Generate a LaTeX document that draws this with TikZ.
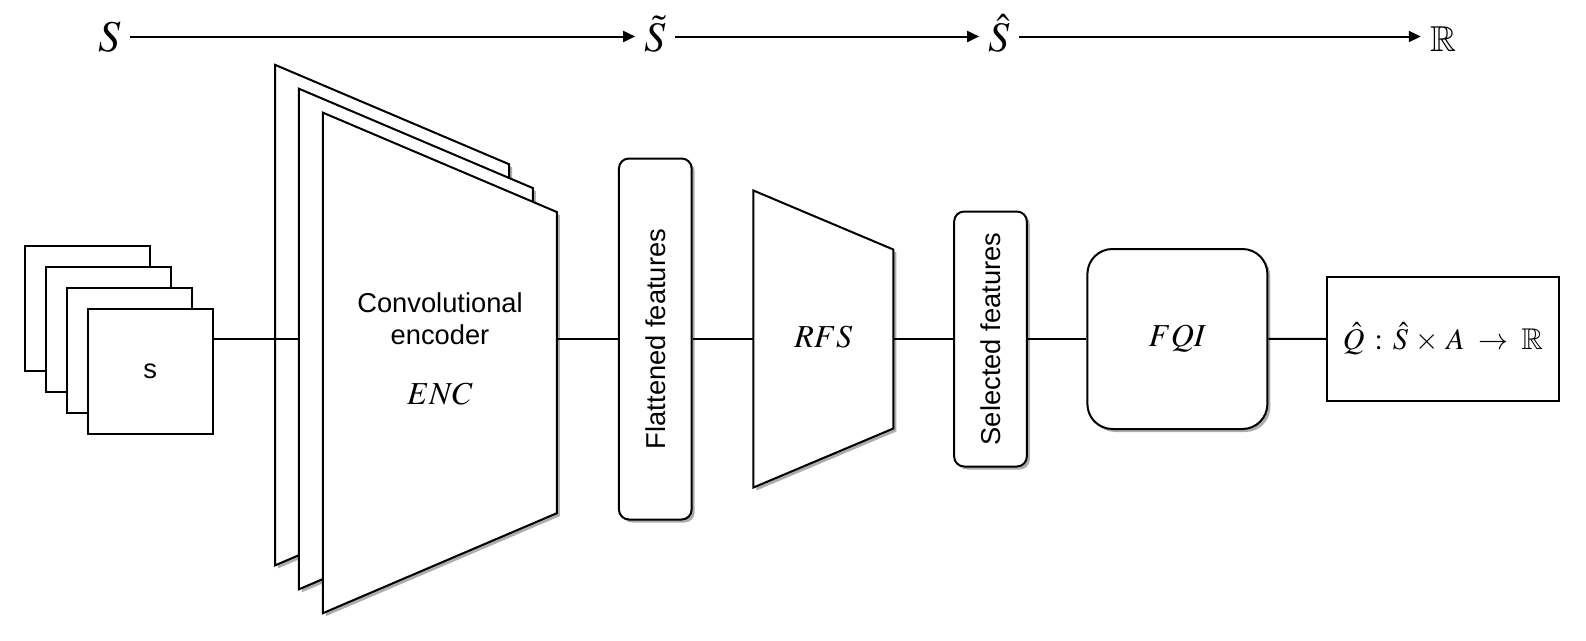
\documentclass[tikz,border=0pt]{standalone}
\usepackage{mathptmx}
\usepackage{amssymb}
\usepackage{fontspec}
\setmainfont{Liberation Sans}
\usetikzlibrary{arrows.meta,shadows}
\newcommand\sansf{\fontsize{27.3}{32}\selectfont}
\newcommand\mathf{\fontsize{32}{38}\selectfont}
\tikzset{
  ln/.style={line width=2pt},
  arr/.style={line width=2pt,-{Triangle[length=12pt,width=11pt]}},
  shd/.style={drop shadow={shadow xshift=3pt,shadow yshift=-3pt,fill=black!32,opacity=1}},
  frame/.style={draw,line width=2pt,fill=white,minimum width=124.5pt,minimum height=124.5pt,inner sep=0pt,font=\sansf},
  rbox/.style={draw,line width=2pt,fill=white,rounded corners=10pt,inner sep=0pt,shd},
  trap/.style={draw,line width=2pt,fill=white,line join=miter,shd},
  top/.style={anchor=base,inner xsep=9pt,inner ysep=0pt,text height=30pt,text depth=0pt},
  lbl/.style={inner sep=0pt}
}
\begin{document}
\begin{tikzpicture}[x=1pt,y=-1pt]
\useasboundingbox (0,0) rectangle (1586,640);
% top row
\node[top,font=\fontsize{44}{50}\selectfont] (tS) at (109.5,51.5) {$S$};
\node[top,font=\fontsize{42}{50}\selectfont] (tSt) at (655,51.5) {$\tilde{S}$};
\node[top,font=\fontsize{42}{50}\selectfont] (tSh) at (999,51.5) {$\hat{S}$};
\node[top,font=\fontsize{36}{42}\selectfont] (tR) at (1443,51.5) {$\mathbb{R}$};
\draw[arr] (tS) -- (tSt);
\draw[arr] (tSt) -- (tSh);
\draw[arr] (tSh) -- (tR);
% input frames
\node[frame] (f0) at (87.25,308.25) {};
\node[frame] (f1) at (108.25,329.25) {};
\node[frame] (f2) at (129.25,350.25) {};
\node[frame] (f3) at (150.25,371.25) {s};
% encoder
\draw[trap] (275,64.8) -- (509,164.2) -- (509,465.4) -- (275,565.4) -- cycle;
\coordinate (encin) at (298.9,339);
\draw[ln] (f3.east |- encin) -- (encin);
\draw[trap] (298.9,88.7) -- (532.9,188.1) -- (532.9,489.3) -- (298.9,589.3) -- cycle;
\draw[trap] (322.8,112.6) -- (556.8,212) -- (556.8,513.2) -- (322.8,613.2) -- cycle;
\coordinate (encout) at (556.8,339);
\node[lbl,anchor=base,font=\sansf] (enc1) at (440,312.7) {Convolutional};
\node[lbl,anchor=base,font=\sansf] (enc2) at (440,344) {encoder};
\node[lbl,anchor=base,font=\mathf] (enc3) at (440,404) {$ENC$};
% flattened
\node[rbox,minimum width=72.7pt,minimum height=361pt] (flat) at (655.3,339) {\rotatebox{90}{\sansf Flattened features}};
\draw[ln] (encout) -- (flat);
% RFS
\draw[trap] (753.4,190.5) -- (893.3,249.5) -- (893.3,428.5) -- (753.4,487.5) -- cycle;
\coordinate (rfsin) at (753.4,339);
\coordinate (rfsout) at (893.3,339);
\node[lbl,font=\mathf] (rfs) at (823.3,337) {$RFS$};
\draw[ln] (flat) -- (rfsin);
% selected
\node[rbox,minimum width=72.7pt,minimum height=255pt] (sel) at (990.5,339) {\rotatebox{90}{\sansf Selected features}};
\draw[ln] (rfsout) -- (sel);
% FQI
\node[rbox,rounded corners=25pt,minimum width=180pt,minimum height=180pt,font=\mathf] (fqi) at (1177.4,339) {$FQI$};
\draw[ln] (sel) -- (fqi);
% Q
\node[draw,line width=2pt,fill=white,minimum width=232pt,minimum height=124pt,inner sep=0pt,font=\fontsize{30}{36}\selectfont] (q) at (1443,338.7) {$\hat{Q}\,:\,\hat{S}\,\times\,A\;\to\;\mathbb{R}$};
\draw[ln] (fqi) -- (q);
\end{tikzpicture}
\end{document}
